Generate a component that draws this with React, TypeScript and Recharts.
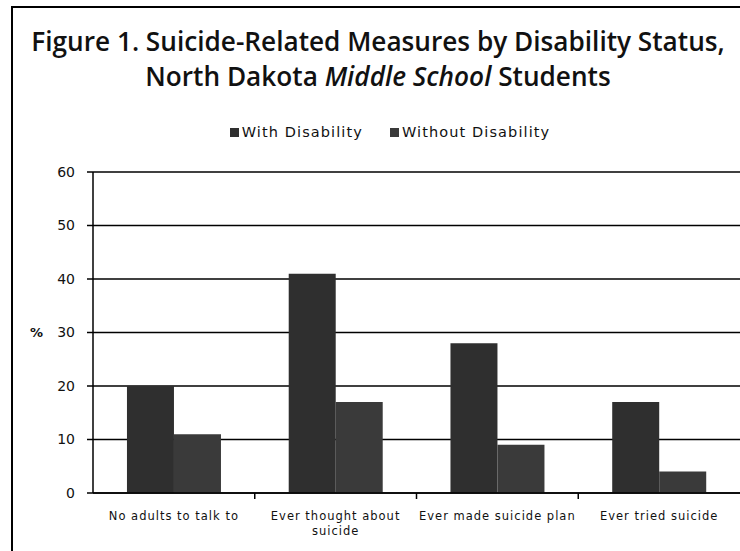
import { BarChart, Bar, XAxis, YAxis, CartesianGrid } from 'recharts';

const categories = ['No adults to talk to', 'Ever thought about suicide', 'Ever made suicide plan', 'Ever tried suicide'];
const withDisability = [20, 41, 28, 17];
const withoutDisability = [11, 17, 9, 4];
const yTicks = [0, 10, 20, 30, 40, 50, 60];

const seriesNames = ['With Disability', 'Without Disability'];
const seriesColors = ['#2f2f2f', '#3a3a3a'];

// two-line labels where the original wrapped
const labelLines: Record<string, string[]> = {
  'Ever thought about suicide': ['Ever thought about', 'suicide'],
};

const data = categories.map((c, i) => ({
  name: c,
  withDis: withDisability[i],
  withoutDis: withoutDisability[i],
}));

const CategoryTick = (props: any) => {
  const { x, y, payload, index } = props;
  const lines = labelLines[payload.value] || [payload.value];
  const half = payload.offset ?? 80.9;
  return (
    <g>
      {index > 0 && <line x1={x - half} x2={x - half} y1={y - 8} y2={y - 2} stroke="#000" strokeWidth={1.5} />}
      <text x={x} y={y + 19} textAnchor="middle" fontFamily="DejaVu Sans" fontSize={11.5} fill="#111" letterSpacing={1}>
        {lines.map((l: string, i: number) => (
          <tspan key={i} x={x} dy={i === 0 ? 0 : 15}>{l}</tspan>
        ))}
      </text>
    </g>
  );
};

export default function App() {
  return (
    <div style={{ position: 'absolute', left: 0, top: 0, width: 740, height: 551, background: '#fff', overflow: 'hidden' }}>
      {/* scanned frame: left and top edges only */}
      <div style={{ position: 'absolute', left: 11, top: 6, width: 740, height: 560, borderLeft: '2px solid #000', borderTop: '2px solid #000' }} />
      <div style={{ position: 'absolute', left: 0, top: 24, width: 756, textAlign: 'center', fontFamily: 'Open Sans', fontWeight: 600, fontSize: 26.2, lineHeight: '35px', color: '#111' }}>
        Figure 1. Suicide-Related Measures by Disability Status,
        <br />
        North Dakota <i>Middle School</i> Students
      </div>
      <div style={{ position: 'absolute', left: 0, top: 124, width: 780, display: 'flex', justifyContent: 'center', gap: 27, fontFamily: 'DejaVu Sans', fontSize: 14.5, letterSpacing: 1.1, color: '#111' }}>
        {seriesNames.map((n, i) => (
          <div key={n} style={{ display: 'flex', alignItems: 'center' }}>
            <span style={{ display: 'inline-block', width: 9, height: 9, background: seriesColors[i], marginRight: 3 }} />
            {n}
          </div>
        ))}
      </div>
      <BarChart
        width={740}
        height={551}
        data={data}
        margin={{ top: 172, right: 0, bottom: 0, left: 0 }}
        barCategoryGap="21%"
        barGap={0}
        style={{ position: 'absolute', left: 0, top: 0 }}
      >
        <CartesianGrid vertical={false} stroke="#000" strokeWidth={1.3} />
        <XAxis
          dataKey="name"
          tick={<CategoryTick />}
          tickLine={false}
          axisLine={{ stroke: '#000', strokeWidth: 1.5 }}
          interval={0}
          height={58}
        />
        <YAxis
          width={93}
          domain={[0, 60]}
          ticks={yTicks}
          tickSize={6}
          tickMargin={12}
          tickLine={{ stroke: '#000', strokeWidth: 1.5 }}
          axisLine={{ stroke: '#000', strokeWidth: 1.5 }}
          tick={{ fontFamily: 'DejaVu Sans', fontSize: 14, fill: '#111' }}
          label={{ value: '%', position: 'insideLeft', offset: 30, fontFamily: 'DejaVu Sans', fontSize: 13, fontWeight: 700, fill: '#111' }}
        />
        <Bar dataKey="withDis" name={seriesNames[0]} fill={seriesColors[0]} isAnimationActive={false} />
        <Bar dataKey="withoutDis" name={seriesNames[1]} fill={seriesColors[1]} isAnimationActive={false} />
      </BarChart>
    </div>
  );
}
